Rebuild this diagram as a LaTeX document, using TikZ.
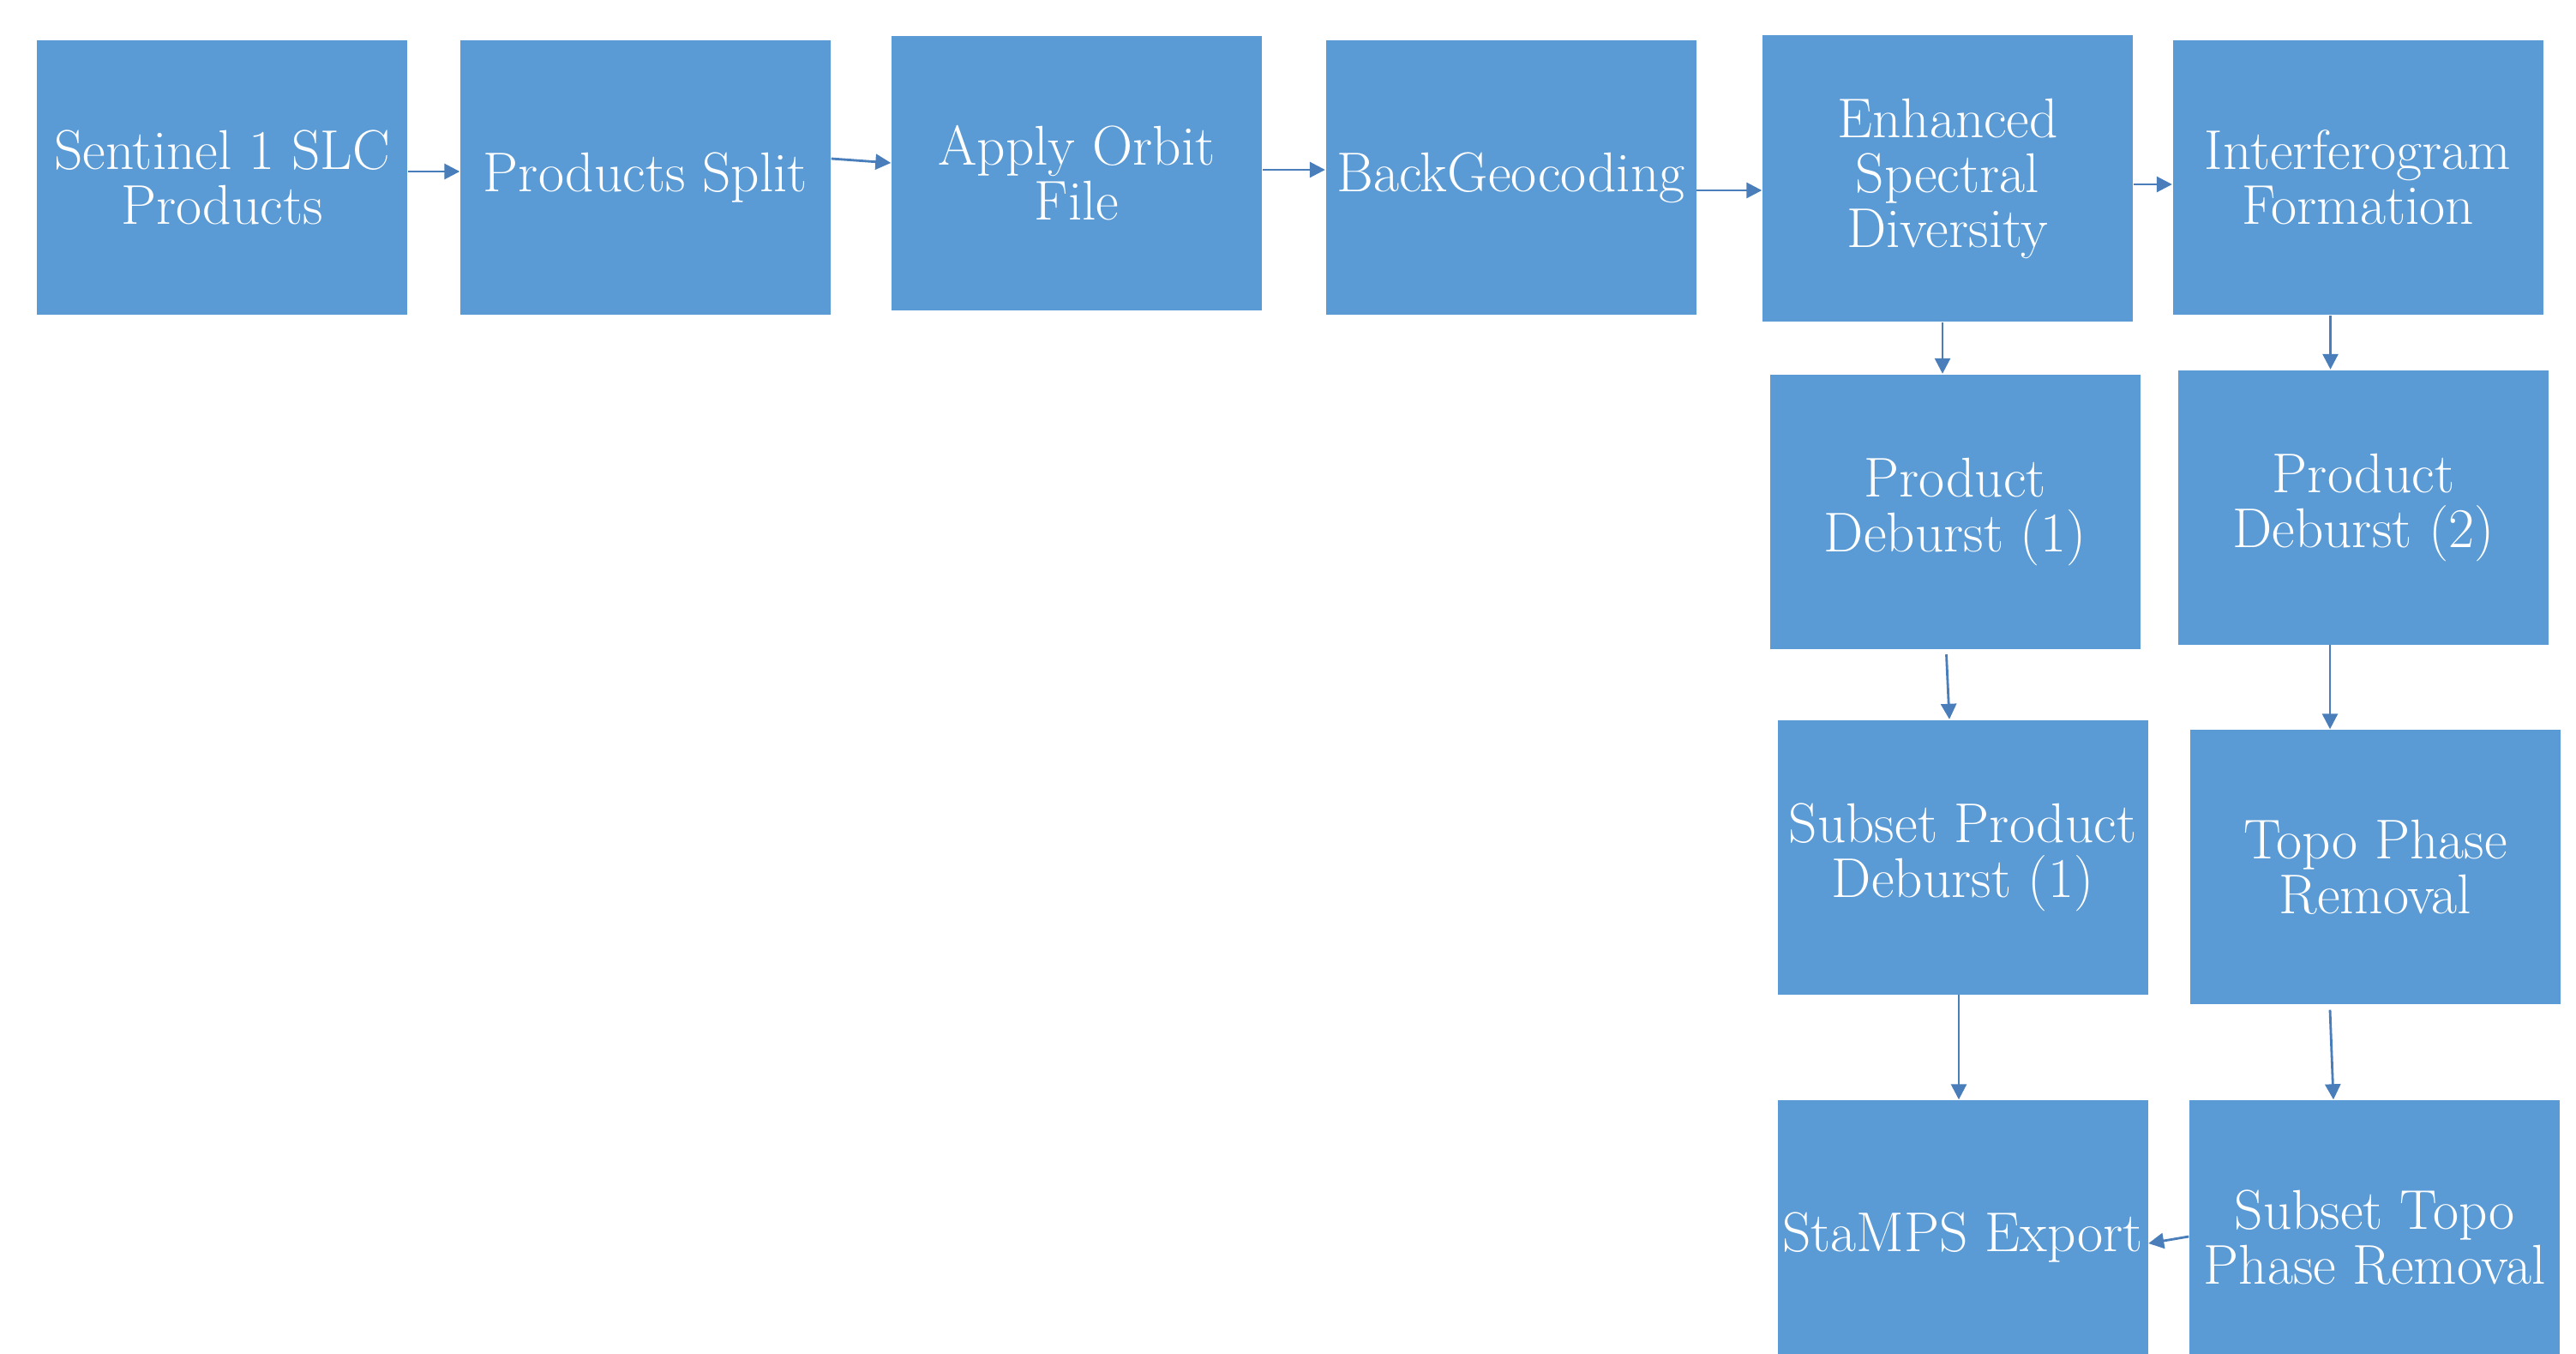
\documentclass[tikz,border=0pt]{standalone}
\usepackage{tikz}
\usetikzlibrary{arrows.meta}
\definecolor{boxblue}{RGB}{91, 155, 213}
\definecolor{flowblue}{RGB}{74, 126, 187}

\begin{document}
\begin{tikzpicture}[
    stepbox/.style={rectangle, fill=boxblue, text=white, inner sep=0pt,
      minimum width=4.32cm, minimum height=3.2cm, align=center,
      font=\fontsize{18.6}{18.2}\selectfont},
    flow/.style={flowblue, line width=0.8pt, -{Triangle[length=1.8mm, width=1.8mm]}}
  ]
  \useasboundingbox (0,0) rectangle (30.05,-15.79);
  \fill[white] (0,0) rectangle (30.05,-15.79);

  % top row
  \node[stepbox] (sent)  at (2.59,-2.07)   {Sentinel 1 SLC\\Products};
  \node[stepbox] (split) at (7.53,-2.07)   {Products Split};
  \node[stepbox] (orbit) at (12.56,-2.02)  {Apply Orbit\\File};
  \node[stepbox] (bgeo)  at (17.625,-2.07) {BackGeocoding};
  \node[stepbox, minimum height=3.34cm] (esd) at (22.72,-2.08) {Enhanced\\Spectral\\Diversity};
  \node[stepbox] (ifg)   at (27.505,-2.07) {Interferogram\\Formation};

  % two columns on the right
  \node[stepbox] (deb1)    at (22.805,-5.965) {Product\\Deburst (1)};
  \node[stepbox] (deb2)    at (27.57,-5.915)  {Product\\Deburst (2)};
  \node[stepbox] (sub1)    at (22.895,-9.995) {Subset Product\\Deburst (1)};
  \node[stepbox] (topo)    at (27.71,-10.11)  {Topo Phase\\Removal};
  \node[stepbox] (stamps)  at (22.895,-14.43) {StaMPS Export};
  \node[stepbox] (subtopo) at (27.70,-14.43)  {Subset Topo\\Phase Removal};

  % connectors
  \draw[flow] ([yshift=0.07cm]sent.east) -- ([yshift=0.07cm]split.west);
  \draw[flow] ([yshift=0.22cm]split.east) -- ([yshift=0.12cm]orbit.west);
  \draw[flow] ([yshift=0.04cm]orbit.east) -- ([yshift=0.09cm]bgeo.west);
  \draw[flow] ([yshift=-0.15cm]bgeo.east) -- ([yshift=-0.14cm]esd.west);
  \draw[flow] ([yshift=-0.07cm]esd.east) -- ([yshift=-0.08cm]ifg.west);
  \draw[flow] ([xshift=-0.06cm]esd.south) -- ([xshift=-0.06cm]esd.south |- deb1.north);
  \draw[flow] ([xshift=-0.32cm]ifg.south) -- ([xshift=-0.32cm]ifg.south |- deb2.north);
  \draw[flow] ([xshift=-0.1cm, yshift=-0.06cm]deb1.south) -- ([xshift=-0.155cm]sub1.north);
  \draw[flow] ([xshift=-0.39cm]deb2.south) -- ([xshift=-0.39cm]deb2.south |- topo.north);
  \draw[flow] ([xshift=-0.045cm]sub1.south) -- ([xshift=-0.045cm]sub1.south |- stamps.north);
  \draw[flow] ([xshift=-0.53cm, yshift=-0.06cm]topo.south) -- ([xshift=-0.48cm]subtopo.north);
  \draw[flow] ([yshift=0.01cm]subtopo.west) -- ([yshift=-0.07cm]stamps.east);
\end{tikzpicture}
\end{document}
